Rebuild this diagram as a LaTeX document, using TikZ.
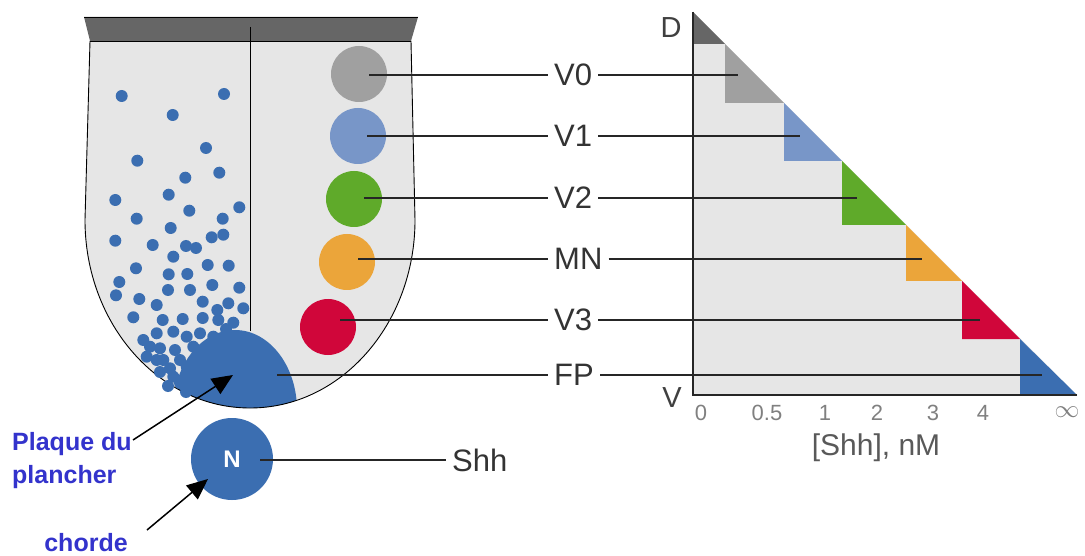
\documentclass[tikz,border=0pt]{standalone}
\usepackage{fontspec}
\setmainfont{Liberation Sans}
\usetikzlibrary{arrows.meta}
\definecolor{shhblue}{RGB}{59,110,177}
\definecolor{tissue}{RGB}{230,230,230}
\definecolor{roofgray}{RGB}{102,102,102}
\definecolor{vzero}{RGB}{160,160,160}
\definecolor{vone}{RGB}{120,150,200}
\definecolor{vtwo}{RGB}{95,170,42}
\definecolor{mnorange}{RGB}{235,165,58}
\definecolor{vthree}{RGB}{208,6,58}
\definecolor{notecol}{RGB}{51,51,204}
\begin{document}
\begin{tikzpicture}[x=1pt,y=-1pt,
  cell/.style={circle,inner sep=0pt,minimum size=56pt},
  lead/.style={line width=1.2pt,black!85},
  fate/.style={font=\fontsize{31}{32}\selectfont,text=black!80,inner sep=6pt,anchor=west},
  tick/.style={font=\fontsize{22}{22}\selectfont,text=black!50,inner sep=0pt},
  note/.style={font=\bfseries\fontsize{25}{33}\selectfont,text=notecol,inner sep=0pt,align=left},
  pointer/.style={-{Triangle[length=21pt,width=18pt]},line width=1.5pt,black}]
\useasboundingbox (0,0) rectangle (1085,556);
\fill[white] (0,0) rectangle (1085,556);

% neural tube cross-section
\def\tubepath{(90,41) -- (85,220) arc[start angle=180,end angle=0,x radius=165,y radius=188] -- (411,41) -- cycle}
\fill[tissue] \tubepath;
\begin{scope}
  \clip \tubepath;
  \fill[shhblue] (235,410) ellipse [x radius=62,y radius=80];
\end{scope}
\draw[line width=0.9pt] (90,41) -- (85,220) arc[start angle=180,end angle=0,x radius=165,y radius=188] -- (411,41);
% roof plate
\fill[roofgray] (84,17) -- (418,17) -- (411,41) -- (90,41) -- cycle;
\draw[line width=0.9pt] (84,17) -- (418,17) (90,41) -- (411,41);
% midline
\draw[line width=1pt] (250,27) -- (250,331);

% scattered Shh-responding cells
\foreach \p in {(121.7,96),(224,94),(172.7,115),(206,148),(137.3,160.7),(219.3,172.7),
  (185.3,177.7),(168.7,194.7),(115.3,200),(239.3,207.3),(189.3,210.7),(136.7,218.7),
  (222.7,218.7),(170.7,228),(115.3,240.7),(152.7,245),(186,246),(196,248),(211.7,237.3),
  (223.3,234.7),(173.3,256.7),(207.7,265),(228.7,265.7),(136,268.3),(168.7,274.3),
  (187.3,274),(119.3,282),(116,295.3),(139.3,299),(168,290),(190,290),(212.3,285),
  (239.3,287.7),(156.7,305),(202.7,301.7),(217.3,310),(228.3,303.3),(243.3,308.3),
  (133.3,317.3),(162.7,320),(182.7,319),(202.7,318),(218.3,320),(233.3,322.7),
  (143.3,340),(156.7,333.3),(173.3,331.7),(186.7,336.7),(200,333.3),(213.3,336.7),
  (160,348.3),(146.7,356.7),(175,350),(193.3,346.7),(163.3,360),(180,360),(170,368.3),
  (186.7,366.7),(173.3,376.7),(190,376.7),(196.7,356.7),(150,346.7),(180,383),(156.7,360),
  (226,329),(207,348),(160,372),(168,386),(186,392)}
  \fill[shhblue] \p circle[radius=6];

% progenitor domains
\node[cell,fill=vzero]    (c0) at (359,74) {};
\node[cell,fill=vone]     (c1) at (358,136) {};
\node[cell,fill=vtwo]     (c2) at (354,199) {};
\node[cell,fill=mnorange] (c3) at (347,262) {};
\node[cell,fill=vthree]   (c4) at (328,327) {};

% notochord
\node[circle,fill=shhblue,minimum size=82pt,inner sep=0pt,text=white,
      font=\bfseries\fontsize{24}{24}\selectfont] (noto) at (232,459) {N};

% fate labels
\node[fate] (l0) at (548,75)  {V0};
\node[fate] (l1) at (548,136) {V1};
\node[fate] (l2) at (548,198) {V2};
\node[fate] (l3) at (548,259) {MN};
\node[fate] (l4) at (548,320) {V3};
\node[fate] (l5) at (548,375) {FP};
\node[fate] (shh) at (446,460) {Shh};

% concentration diagram
\fill[tissue] (693,12) -- (693,395) -- (1077,395) -- cycle;
\foreach \a/\b/\c in {693/725/roofgray,725/784/vzero,784/842/vone,842/906/vtwo,
                      906/962/mnorange,962/1020/vthree,1020/1077/shhblue}{
  \pgfmathsetmacro\ya{12+\a-693}
  \pgfmathsetmacro\yb{min(12+\b-693,395)}
  \fill[\c] (\a,\ya) -- (\b,\yb) -- (\a,\yb) -- cycle;
}
\draw[line width=1.3pt,black!85] (693,12) -- (693,395) -- (1077,395);
\node[font=\fontsize{29}{29}\selectfont,text=black!75,inner sep=0pt] (dlab) at (671,28) {D};
\node[font=\fontsize{29}{29}\selectfont,text=black!75,inner sep=0pt] (vlab) at (672,398) {V};
\node[tick] (t0) at (701,413) {0};
\node[tick] (t1) at (767,413) {0.5};
\node[tick] (t2) at (825,413) {1};
\node[tick] (t3) at (877,413) {2};
\node[tick] (t4) at (933,413) {3};
\node[tick] (t5) at (983,413) {4};
\node[tick,font=\fontsize{34}{34}\selectfont] (t6) at (1067,412) {$\infty$};
\node[font=\fontsize{30}{30}\selectfont,text=black!65,inner sep=0pt] (axis) at (876,448) {[Shh], nM};

% leader line end points
\coordinate (s0) at (369,75);  \coordinate (e0) at (738,75);
\coordinate (s1) at (367,136); \coordinate (e1) at (800,136);
\coordinate (s2) at (364,198); \coordinate (e2) at (857,198);
\coordinate (s3) at (358,259); \coordinate (e3) at (922,259);
\coordinate (s4) at (340,320); \coordinate (e4) at (980,320);
\coordinate (s5) at (277,375); \coordinate (e5) at (1042,375);
\coordinate (sn) at (260,460);

\foreach \i in {0,...,5}{
  \draw[lead] (s\i) -- (l\i.west);
  \draw[lead] (l\i.east) -- (e\i);
}
\draw[lead] (sn) -- (shh.west);

% annotations
\node[note,anchor=north west] (plaque) at (12,432) {Plaque du\\plancher};
\node[note] (chorde) at (86,543) {chorde};
\coordinate (a1) at (133,440); \coordinate (fptip) at (233,375);
\coordinate (a2) at (147,530); \coordinate (ntip) at (208,479);
\draw[pointer] (a1) -- (fptip);
\draw[pointer] (a2) -- (ntip);
\end{tikzpicture}
\end{document}
